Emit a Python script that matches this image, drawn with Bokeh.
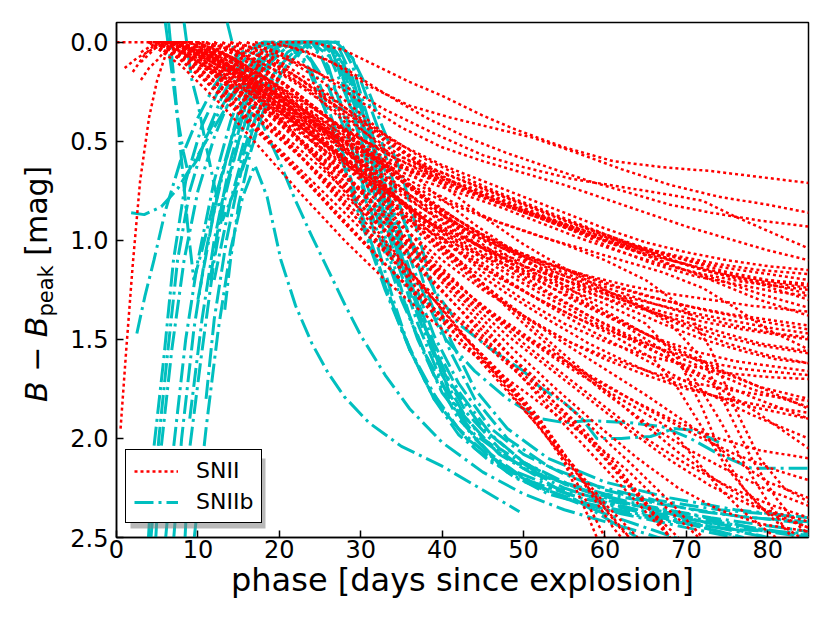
from bokeh.plotting import figure
from bokeh.layouts import row
from bokeh.models import (Range1d, FixedTicker, NumeralTickFormatter, Legend,
                          LegendItem, BoxAnnotation, Div)
from bokeh.embed import file_html
from bokeh.resources import INLINE

# ---------------- data: (phase [days], B - B_peak [mag]) ----------------
# SNII light curves (red dotted)
snii_01 = [(20,0),(24,0),(28,0.04),(32,0.12),(36,0.2),(40,0.27),(45,0.37),(49,0.44),(55,0.53),(61,0.6),(67,0.63),(73,0.65),(79,0.68),(85,0.71)]
snii_02 = [(17,0),(21,0.02),(26,0.09),(31,0.22),(36,0.32),(41,0.38),(46,0.43),(51,0.48),(56,0.55),(62,0.64),(68,0.72),(74,0.78),(80,0.82),(85,0.86)]
snii_03 = [(14,0),(18,0.04),(23,0.12),(28,0.22),(33,0.34),(39,0.46),(45,0.57),(50,0.63),(56,0.69),(62,0.73),(68,0.77),(72,0.8),(76,0.88),(81,0.97),(85,1.04)]
snii_04 = [(16,0),(20,0.05),(25,0.16),(30,0.3),(35,0.43),(40,0.53),(45,0.6),(50,0.66),(55,0.72),(60,0.79),(65,0.86),(70,0.93),(75,0.99),(80,1.05),(85,1.1)]
snii_05 = [(4,0),(6,0),(10,0.05),(15,0.15),(20,0.27),(25,0.39),(30,0.52),(35,0.62),(40,0.7),(45,0.78),(50,0.86),(55,0.93),(60,1.0),(65,1.05),(70,1.1),(75,1.14),(80,1.17),(85,1.2)]
snii_06 = [(5,0),(9,0),(14,0.1),(19,0.2),(24,0.33),(29,0.46),(34,0.58),(39,0.67),(44,0.74),(49,0.82),(54,0.9),(59,0.97),(64,1.03),(69,1.08),(74,1.12),(79,1.15),(85,1.17)]
snii_07 = [(12,0),(16,0.06),(21,0.18),(26,0.32),(31,0.47),(36,0.6),(41,0.7),(46,0.78),(51,0.86),(56,0.94),(61,1.02),(66,1.08),(71,1.13),(76,1.18),(81,1.21),(85,1.23)]
snii_08 = [(7,0),(11,0.08),(16,0.2),(21,0.33),(26,0.45),(31,0.56),(36,0.65),(41,0.73),(46,0.8),(51,0.87),(56,0.95),(61,1.04),(66,1.12),(71,1.18),(76,1.22),(81,1.26),(85,1.28)]
snii_09 = [(15,0),(19,0.07),(24,0.2),(29,0.36),(34,0.52),(39,0.64),(44,0.72),(49,0.8),(54,0.88),(59,0.96),(64,1.04),(69,1.11),(74,1.17),(79,1.22),(85,1.3)]
snii_10 = [(4,0),(5,0),(9,0.06),(14,0.17),(19,0.29),(24,0.41),(29,0.53),(34,0.62),(39,0.69),(44,0.76),(49,0.84),(54,0.92),(59,0.99),(64,1.06),(69,1.14),(74,1.2),(79,1.27),(85,1.34)]
snii_11 = [(8,0),(12,0.07),(17,0.2),(22,0.35),(27,0.5),(32,0.66),(37,0.82),(42,0.97),(47,1.08),(52,1.16),(57,1.23),(62,1.3),(67,1.36),(72,1.41),(77,1.45),(85,1.5)]
snii_12 = [(10,0),(14,0.08),(19,0.22),(24,0.37),(29,0.53),(34,0.7),(39,0.87),(44,1.02),(49,1.13),(54,1.21),(59,1.28),(64,1.34),(69,1.4),(74,1.46),(79,1.52),(85,1.56)]
snii_13 = [(6,0),(10,0.07),(15,0.21),(20,0.35),(25,0.5),(30,0.65),(35,0.8),(40,0.93),(45,1.04),(50,1.13),(55,1.2),(60,1.26),(65,1.31),(70,1.36),(75,1.4),(80,1.44),(85,1.47)]
snii_14 = [(13,0),(17,0.1),(22,0.25),(27,0.41),(32,0.58),(37,0.75),(42,0.9),(47,1.03),(52,1.14),(57,1.24),(62,1.33),(67,1.42),(72,1.5),(77,1.56),(81,1.6),(85,1.62)]
snii_15 = [(4,0),(8,0.05),(13,0.17),(18,0.3),(23,0.44),(28,0.58),(33,0.72),(38,0.85),(43,0.96),(48,1.05),(53,1.12),(58,1.18),(63,1.23),(68,1.27),(73,1.3),(78,1.33),(85,1.36)]
snii_16 = [(7,0),(11,0.1),(16,0.25),(21,0.4),(26,0.56),(31,0.73),(36,0.92),(41,1.1),(46,1.27),(51,1.41),(56,1.52),(61,1.6),(66,1.67),(71,1.72),(76,1.76),(81,1.79),(85,1.81)]
snii_17 = [(11,0),(15,0.1),(20,0.26),(25,0.43),(30,0.61),(35,0.8),(40,0.99),(45,1.16),(50,1.3),(55,1.42),(60,1.51),(65,1.58),(70,1.63),(75,1.67),(80,1.69),(85,1.7)]
snii_18 = [(9,0),(13,0.09),(18,0.23),(23,0.38),(28,0.55),(33,0.73),(38,0.9),(43,1.06),(48,1.2),(53,1.33),(58,1.45),(63,1.56),(68,1.67),(73,1.78),(78,1.88),(85,2.0)]
snii_19 = [(14,0),(18,0.08),(23,0.22),(28,0.4),(33,0.6),(38,0.8),(43,0.98),(48,1.13),(53,1.26),(58,1.38),(63,1.49),(68,1.6),(73,1.72),(78,1.85),(85,2.05)]
snii_20 = [(5,0),(9,0.08),(14,0.22),(19,0.36),(24,0.5),(29,0.64),(34,0.78),(39,0.92),(44,1.04),(49,1.15),(54,1.25),(59,1.35),(64,1.45),(69,1.55),(74,1.65),(79,1.74),(85,1.85)]
snii_21 = [(10,0),(15,0.12),(20,0.27),(25,0.42),(30,0.57),(35,0.7),(40,0.8),(45,0.88),(50,0.95),(55,1.02),(60,1.1),(65,1.2),(70,1.35),(73,1.55),(76,1.85),(79,2.1),(82,2.25),(85,2.32)]
snii_22 = [(8,0),(13,0.12),(18,0.27),(23,0.43),(28,0.6),(33,0.76),(38,0.9),(43,1.0),(48,1.08),(53,1.15),(58,1.22),(63,1.3),(68,1.42),(72,1.6),(75,1.85),(78,2.1),(81,2.3),(84,2.45),(85,2.48)]
snii_23 = [(12,0),(17,0.1),(22,0.25),(27,0.42),(32,0.6),(37,0.77),(42,0.92),(47,1.05),(52,1.18),(57,1.3),(62,1.42),(67,1.55),(71,1.7),(74,1.9),(77,2.12),(80,2.32),(82,2.45),(83,2.5)]
snii_24 = [(6,0),(10,0.1),(15,0.27),(20,0.45),(25,0.63),(30,0.82),(35,1.03),(40,1.25),(45,1.48),(50,1.7),(55,1.93),(60,2.15),(65,2.37),(68,2.5)]
snii_25 = [(8,0),(12,0.11),(17,0.28),(22,0.47),(27,0.66),(32,0.87),(37,1.08),(42,1.3),(47,1.52),(52,1.74),(57,1.96),(62,2.2),(67,2.42),(69,2.5)]
snii_26 = [(5,0),(9,0.09),(14,0.26),(19,0.44),(24,0.63),(29,0.84),(34,1.06),(39,1.3),(44,1.54),(49,1.78),(54,2.02),(58,2.25),(62,2.46),(63,2.5)]
snii_27 = [(10,0),(14,0.1),(19,0.28),(24,0.48),(29,0.7),(34,0.93),(39,1.15),(44,1.36),(49,1.56),(54,1.75),(59,1.93),(64,2.1),(69,2.25),(74,2.36),(79,2.43),(85,2.47)]
snii_28 = [(7,0),(11,0.12),(16,0.3),(21,0.5),(26,0.72),(31,0.96),(36,1.2),(41,1.44),(46,1.67),(51,1.9),(56,2.13),(60,2.33),(64,2.5)]
snii_29 = [(4,0),(8,0.09),(13,0.27),(18,0.47),(23,0.68),(28,0.9),(33,1.12),(38,1.33),(43,1.53),(48,1.73),(53,1.96),(57,2.2),(61,2.45),(62,2.5)]
snii_30 = [(9,0),(13,0.1),(18,0.27),(23,0.46),(28,0.67),(33,0.89),(38,1.1),(43,1.3),(48,1.48),(53,1.64),(58,1.8),(63,1.96),(68,2.11),(73,2.24),(78,2.34),(85,2.42)]
snii_31 = [(11,0),(15,0.1),(20,0.27),(25,0.47),(30,0.69),(35,0.92),(40,1.14),(45,1.34),(50,1.52),(55,1.68),(60,1.84),(65,2.0),(70,2.13),(75,2.24),(80,2.33),(85,2.4)]
snii_32 = [(4,0),(7,0.06),(11,0.2),(15,0.36),(20,0.56),(25,0.78),(30,1.0),(35,1.2),(40,1.38),(45,1.58),(50,1.82),(55,2.12),(58,2.4),(59,2.5)]
snii_33 = [(6,0),(9,0.08),(13,0.24),(17,0.42),(22,0.64),(27,0.87),(32,1.08),(37,1.28),(42,1.46),(47,1.66),(52,1.9),(56,2.18),(59,2.42),(60,2.5)]
snii_34 = [(0.5,1.95),(1.2,1.55),(2,1.12),(2.9,0.7),(4,0.38),(5,0.19),(6.3,0.03),(7.5,0),(10,0),(14,0.12),(19,0.33),(24,0.56),(29,0.8),(34,1.05),(39,1.3),(44,1.55),(49,1.8),(54,2.05),(59,2.3),(63,2.5)]
snii_35 = [(1,0.13),(2.5,0.08),(4.2,0.04),(6.3,0),(10,0),(15,0.09),(20,0.24),(25,0.41),(30,0.6),(35,0.81),(40,1.02),(45,1.22),(50,1.42),(55,1.6),(60,1.77),(65,1.92),(70,2.05),(75,2.16),(80,2.26),(85,2.34)]
snii_36 = [(3,0.19),(4,0.13),(5,0.09),(6,0.04),(7,0),(11,0),(15,0.07),(20,0.2),(25,0.35),(30,0.52),(35,0.7),(40,0.85),(45,0.97),(50,1.07),(55,1.15),(60,1.22),(65,1.28),(70,1.33),(75,1.37),(80,1.4),(85,1.43)]
snii_37 = [(0,0),(3,0),(6,0),(9,0.04),(13,0.13),(18,0.27),(23,0.42),(28,0.58),(33,0.74),(38,0.9),(43,1.04),(48,1.17),(53,1.29),(58,1.4),(63,1.5),(68,1.6),(73,1.7),(78,1.79),(85,1.9)]
snii_38 = [(5,0),(8,0),(12,0.08),(17,0.2),(22,0.34),(27,0.48),(32,0.6),(37,0.69),(42,0.76),(47,0.83),(52,0.91),(57,0.99),(62,1.06),(67,1.12),(72,1.17),(77,1.21),(85,1.25)]
snii_39 = [(6,0),(10,0.04),(15,0.14),(20,0.26),(25,0.38),(30,0.49),(35,0.58),(40,0.66),(45,0.74),(50,0.82),(55,0.9),(60,0.97),(65,1.04),(70,1.1),(75,1.16),(80,1.2),(85,1.22)]
snii_40 = [(9,0),(13,0.06),(18,0.17),(23,0.3),(28,0.44),(33,0.56),(38,0.66),(43,0.74),(48,0.82),(53,0.89),(58,0.96),(63,1.03),(68,1.1),(73,1.16),(79,1.21),(85,1.27)]
snii_41 = [(11,0),(15,0.05),(20,0.15),(25,0.27),(30,0.4),(35,0.52),(40,0.62),(45,0.7),(50,0.78),(55,0.86),(60,0.94),(65,1.01),(70,1.06),(75,1.1),(80,1.13),(85,1.15)]
snii_42 = [(13,0),(17,0.06),(22,0.17),(27,0.3),(32,0.44),(37,0.57),(42,0.67),(47,0.76),(52,0.84),(57,0.92),(62,1.0),(67,1.08),(72,1.15),(78,1.2),(85,1.24)]
snii_43 = [(3,0.05),(5,0),(8,0),(12,0.09),(17,0.22),(22,0.37),(27,0.52),(32,0.67),(37,0.8),(42,0.92),(47,1.02),(52,1.1),(57,1.17),(62,1.24),(67,1.3),(72,1.35),(78,1.4),(85,1.45)]
snii_44 = [(7,0),(11,0.06),(16,0.18),(21,0.32),(26,0.47),(31,0.62),(36,0.77),(41,0.9),(46,1.01),(51,1.1),(56,1.18),(61,1.25),(66,1.32),(71,1.38),(76,1.43),(81,1.47),(85,1.49)]
snii_45 = [(10,0),(14,0.07),(19,0.2),(24,0.35),(29,0.51),(34,0.67),(39,0.82),(44,0.95),(49,1.06),(54,1.16),(59,1.25),(64,1.33),(69,1.41),(74,1.48),(79,1.53),(85,1.57)]
snii_46 = [(8,0),(12,0.09),(17,0.23),(22,0.39),(27,0.56),(32,0.74),(37,0.91),(42,1.06),(47,1.19),(52,1.3),(57,1.4),(62,1.48),(67,1.55),(72,1.61),(77,1.65),(85,1.68)]
snii_47 = [(12,0),(16,0.08),(21,0.22),(26,0.38),(31,0.55),(36,0.73),(41,0.9),(46,1.05),(51,1.18),(56,1.3),(61,1.4),(66,1.49),(71,1.56),(76,1.61),(85,1.66)]
snii_48 = [(6,0),(10,0.09),(15,0.24),(20,0.4),(25,0.57),(30,0.75),(35,0.93),(40,1.1),(45,1.25),(50,1.38),(55,1.5),(60,1.6),(65,1.68),(70,1.75),(75,1.8),(80,1.84),(85,1.87)]
snii_49 = [(9,0),(13,0.1),(18,0.25),(23,0.42),(28,0.6),(33,0.79),(38,0.97),(43,1.13),(48,1.27),(53,1.4),(58,1.52),(63,1.62),(68,1.71),(73,1.78),(78,1.84),(85,1.9)]
snii_50 = [(15,0),(19,0.08),(24,0.23),(29,0.4),(34,0.58),(39,0.76),(44,0.92),(49,1.06),(54,1.2),(59,1.33),(64,1.45),(69,1.56),(74,1.66),(79,1.74),(85,1.8)]
snii_51 = [(5,0),(9,0.1),(14,0.27),(19,0.45),(24,0.63),(29,0.81),(34,0.99),(39,1.16),(44,1.32),(49,1.46),(54,1.59),(59,1.71),(64,1.82),(69,1.92),(74,2.0),(79,2.06),(85,2.1)]
snii_52 = [(7,0),(11,0.11),(16,0.27),(21,0.45),(26,0.64),(31,0.84),(36,1.03),(41,1.2),(46,1.36),(51,1.5),(56,1.63),(61,1.75),(66,1.87),(71,1.98),(76,2.08),(81,2.16),(85,2.21)]
snii_53 = [(11,0),(15,0.11),(20,0.28),(25,0.47),(30,0.66),(35,0.86),(40,1.05),(45,1.22),(50,1.38),(55,1.52),(60,1.65),(65,1.78),(70,1.92),(75,2.08),(80,2.22),(85,2.3)]
snii_54 = [(4,0),(8,0.12),(13,0.32),(18,0.55),(23,0.78),(28,1.0),(33,1.2),(38,1.38),(43,1.55),(48,1.7),(53,1.85),(58,2.0),(63,2.17),(67,2.33),(71,2.48),(72,2.52)]
snii_55 = [(8,0),(12,0.13),(17,0.33),(22,0.55),(27,0.78),(32,1.0),(37,1.2),(42,1.39),(47,1.57),(52,1.75),(57,1.94),(61,2.12),(65,2.32),(68,2.5)]
snii_56 = [(10,0),(14,0.12),(19,0.3),(24,0.5),(29,0.71),(34,0.92),(39,1.12),(44,1.3),(49,1.46),(54,1.6),(59,1.73),(64,1.85),(68,1.95),(71,2.1),(74,2.25),(77,2.37),(80,2.47),(81,2.5)]
snii_57 = [(12,0),(16,0.1),(21,0.27),(26,0.46),(31,0.66),(36,0.85),(41,1.02),(46,1.16),(51,1.28),(56,1.38),(61,1.48),(66,1.6),(69,1.75),(72,1.95),(75,2.15),(78,2.3),(81,2.42),(84,2.5)]
snii_58 = [(6,0),(10,0.1),(15,0.25),(20,0.41),(25,0.58),(30,0.74),(35,0.88),(40,0.99),(45,1.08),(50,1.16),(55,1.24),(60,1.32),(65,1.42),(69,1.6),(72,1.85),(74,2.05),(77,2.25),(80,2.38),(85,2.45)]
snii_59 = [(19,0),(23,0.04),(28,0.13),(33,0.26),(38,0.38),(43,0.48),(48,0.56),(53,0.63),(58,0.7),(63,0.76),(68,0.82),(73,0.86),(79,0.9),(85,0.93)]
snii_60 = [(8,0),(12,0.07),(17,0.19),(22,0.32),(27,0.46),(32,0.6),(37,0.72),(42,0.82),(47,0.91),(52,0.98),(57,1.04),(62,1.1),(67,1.16),(72,1.24),(76,1.34),(80,1.45),(85,1.55)]
snii_61 = [(3,0.1),(5,0.02),(7,0),(10,0.05),(14,0.16),(19,0.31),(24,0.47),(29,0.64),(34,0.82),(39,1.0),(44,1.18),(49,1.36),(54,1.54),(59,1.72),(64,1.9),(69,2.07),(74,2.22),(79,2.35),(85,2.45)]
snii_62 = [(9,0),(13,0.12),(18,0.3),(23,0.51),(28,0.73),(33,0.96),(38,1.18),(43,1.38),(48,1.57),(53,1.75),(58,1.93),(63,2.12),(68,2.32),(72,2.5)]
snii_63 = [(5,0),(9,0.11),(14,0.3),(19,0.5),(24,0.7),(29,0.9),(34,1.1),(39,1.3),(44,1.48),(49,1.66),(54,1.85),(59,2.05),(64,2.28),(68,2.5)]
snii_64 = [(14,0),(18,0.07),(23,0.2),(28,0.35),(33,0.5),(38,0.63),(43,0.74),(48,0.83),(53,0.9),(58,0.97),(63,1.04),(68,1.12),(73,1.2),(79,1.3),(85,1.38)]
snii_65 = [(16,0),(20,0.06),(25,0.19),(30,0.36),(35,0.54),(40,0.72),(45,0.88),(50,1.02),(55,1.14),(60,1.25),(65,1.35),(70,1.44),(75,1.52),(80,1.58),(85,1.62)]
snii_66 = [(2,0.15),(3.5,0.06),(5,0),(9,0),(13,0.1),(18,0.25),(23,0.41),(28,0.58),(33,0.75),(38,0.9),(43,1.03),(48,1.15),(53,1.27),(58,1.38),(63,1.48),(68,1.57),(73,1.66),(78,1.75),(85,1.84)]

# SNIIb light curves (cyan dash-dot)
sniib_01 = [(6.0,-0.1),(6.8,0.15),(7.5,0.38),(8.2,0.55),(8.8,0.66),(9.8,0.6),(11,0.48),(13,0.32),(15,0.18),(17,0.07),(19,0.01),(21,0),(23,0.03),(26,0.22),(29,0.55),(32,0.95),(35,1.3),(38,1.58),(41,1.8),(45,2.0),(50,2.15),(55,2.25),(60,2.32),(65,2.37),(70,2.42),(75,2.46),(80,2.5)]
sniib_02 = [(6.4,-0.1),(7.2,0.25),(8.0,0.6),(8.8,0.95),(9.5,1.2),(10.5,1.05),(12,0.8),(14,0.52),(16,0.3),(18,0.14),(20,0.04),(22,0),(25,0),(27,0.08),(30,0.4),(33,0.82),(36,1.2),(39,1.52),(42,1.76),(46,1.98),(50,2.12),(55,2.23),(60,2.3),(66,2.36),(72,2.41),(78,2.45),(85,2.49)]
sniib_03 = [(8.3,-0.1),(9.2,0.18),(10,0.31),(11,0.52),(12,0.72),(13,0.9),(14.5,0.75),(16,0.58),(18,0.36),(20,0.17),(22,0.05),(24,0),(26,0),(28,0.15),(31,0.55),(34,1.0),(37,1.38),(40,1.68),(43,1.9),(47,2.08),(52,2.2),(58,2.35),(64,2.5)]
sniib_04 = [(4.2,2.52),(5.2,2.0),(6.2,1.6),(7.5,1.1),(9,0.75),(11,0.47),(13,0.27),(15,0.12),(17,0.03),(19,0),(21,0),(23,0.08),(26,0.38),(29,0.75),(32,1.12),(35,1.45),(38,1.72),(42,1.95),(46,2.1),(51,2.22),(57,2.3),(64,2.36),(72,2.42),(80,2.47),(85,2.5)]
sniib_05 = [(4.8,2.52),(5.4,2.08),(6.8,1.55),(8.3,1.1),(10,0.75),(12,0.48),(14,0.28),(16,0.13),(18,0.04),(20,0),(23,0),(25,0.06),(28,0.35),(31,0.75),(34,1.15),(37,1.5),(40,1.77),(44,1.98),(48,2.1),(53,2.2),(60,2.28),(68,2.34),(76,2.39),(85,2.43)]
sniib_06 = [(3.9,2.52),(4.5,2.08),(5.8,1.6),(7,1.1),(8.5,0.7),(10.5,0.42),(13,0.2),(15.5,0.06),(18,0),(22,0),(24,0.1),(27,0.45),(30,0.85),(33,1.22),(36,1.55),(39,1.8),(43,2.0),(48,2.15),(54,2.25),(61,2.32),(70,2.38),(78,2.45),(85,2.5)]
sniib_07 = [(8.4,2.52),(8.9,2.08),(10.4,1.59),(12,1.1),(13.5,0.75),(15,0.5),(17,0.27),(19,0.1),(21,0.02),(23,0),(26,0),(28,0.12),(31,0.5),(34,0.95),(37,1.35),(40,1.65),(43,1.87),(47,2.05),(52,2.18),(58,2.27),(65,2.34),(73,2.4),(85,2.47)]
sniib_08 = [(9.5,2.52),(11,1.95),(12.5,1.45),(14,1.05),(15.5,0.78),(17,0.62),(18.5,0.78),(20.2,1.1),(22,1.33),(24,1.52),(26,1.67),(28,1.79),(31,1.92),(35,2.04),(40,2.14),(45,2.26),(49.5,2.37)]
sniib_09 = [(2.5,1.47),(3.5,1.28),(4.6,1.1),(6,0.85),(8,0.58),(10,0.38),(12,0.22),(14,0.1),(16,0.03),(18,0),(21,0),(24,0.15),(27,0.5),(30,0.9),(33,1.25),(36,1.55),(40,1.85),(44,2.05),(49,2.2),(55,2.3),(62,2.38),(70,2.45),(76,2.5)]
sniib_10 = [(1.8,0.86),(3.4,0.87),(5.5,0.83),(7.5,0.74),(9,0.64),(11,0.5),(13,0.36),(15,0.23),(17,0.12),(19,0.04),(21,0),(24,0),(26,0.05),(29,0.35),(32,0.75),(35,1.12),(38,1.45),(41,1.72),(45,1.95),(50,2.12),(56,2.24),(63,2.33),(70,2.4),(78,2.48),(85,2.55)]
sniib_11 = [(13.3,1.35),(14,1.1),(15,0.82),(16.5,0.55),(18,0.35),(20,0.18),(22,0.07),(24,0.01),(26,0),(27.5,0),(29,0.12),(31,0.4),(33,0.75),(36,1.15),(39,1.48),(42,1.72),(46,1.95),(50,2.08),(55,2.18),(60,2.26),(66,2.32),(72,2.37),(78,2.4),(85,2.42)]
sniib_12 = [(13.6,-0.1),(14.5,0.05),(16,0.22),(18,0.42),(20,0.6),(22,0.8),(24,0.98),(26,1.15),(28,1.32),(30,1.48),(33,1.68),(36,1.85),(40,2.02),(45,2.17),(50,2.28),(55,2.36),(60,2.42),(65,2.48),(68,2.52)]
sniib_13 = [(11.5,1.2),(13,0.8),(15,0.5),(17,0.25),(19,0.08),(21,0),(25,0),(27,0.05),(30,0.3),(33,0.65),(36,0.98),(39,1.25),(42,1.42),(46,1.55),(50,1.66),(52,1.74),(55,1.82),(57,1.89),(59,2.0),(62,2.0),(65.6,1.99),(68.5,1.95),(71,1.96),(74,2.02)]
sniib_14 = [(10,1.3),(12,0.85),(14,0.5),(16,0.25),(18,0.1),(20,0.02),(22,0),(26,0),(28,0.1),(31,0.45),(34,0.85),(37,1.2),(40,1.48),(44,1.66),(48,1.8),(52,1.9),(55,1.92),(58,1.91),(63,1.92),(67,1.94),(70.5,2.0),(74,2.08),(78,2.15),(85,2.15)]
sniib_15 = [(7,2.52),(8,2.0),(9.5,1.45),(11,1.05),(13,0.65),(15,0.35),(17,0.15),(19,0.04),(21,0),(24,0),(27,0.1),(30,0.5),(33,0.98),(36,1.38),(39,1.68),(42,1.9),(46,2.08),(50,2.2),(55,2.3),(60,2.38),(65,2.45),(70,2.52)]
sniib_16 = [(6,2.52),(7,2.05),(8.5,1.5),(10,1.1),(12,0.7),(14,0.4),(16,0.18),(18,0.05),(20,0),(26,0),(28,0.2),(31,0.62),(34,1.05),(37,1.42),(40,1.72),(43,1.95),(47,2.13),(52,2.25),(58,2.33),(64,2.38),(70,2.43),(77,2.5)]
sniib_17 = [(11,1.8),(12,1.4),(13.5,1.0),(15,0.7),(17,0.4),(19,0.18),(21,0.05),(23,0),(27,0),(29,0.18),(32,0.6),(35,1.05),(38,1.45),(41,1.78),(44,2.0),(48,2.17),(53,2.28),(60,2.36),(68,2.42),(76,2.46),(85,2.48)]
sniib_18 = [(9,1.9),(10.5,1.4),(12,1.0),(14,0.6),(16,0.3),(18,0.1),(20,0),(24,0),(26,0.12),(28,0.38),(30,0.7),(32,1.02),(34,1.3),(36,1.55),(39,1.8),(42,1.98),(46,2.12),(51,2.22),(57,2.3),(63,2.36),(70,2.43),(77,2.5)]
sniib_19 = [(15,0.6),(17,0.3),(19,0.1),(21,0.02),(23,0),(27,0),(29,0.08),(32,0.42),(35,0.85),(38,1.25),(41,1.56),(44,1.8),(48,2.0),(53,2.14),(59,2.24),(66,2.31),(74,2.36),(85,2.4)]
sniib_20 = [(12,1.2),(14,0.8),(16,0.5),(18,0.28),(20,0.12),(22,0.04),(24,0),(27,0),(29,0.08),(31,0.25),(32.5,0.41),(35,0.66),(38.6,1.2),(41,1.5),(44,1.75),(48,1.95),(53,2.1),(60,2.22),(68,2.3),(76,2.36),(85,2.4)]

SNII = [snii_01, snii_02, snii_03, snii_04, snii_05, snii_06, snii_07, snii_08, snii_09, snii_10,
        snii_11, snii_12, snii_13, snii_14, snii_15, snii_16, snii_17, snii_18, snii_19, snii_20,
        snii_21, snii_22, snii_23, snii_24, snii_25, snii_26, snii_27, snii_28, snii_29, snii_30,
        snii_31, snii_32, snii_33, snii_34, snii_35, snii_36, snii_37, snii_38, snii_39, snii_40,
        snii_41, snii_42, snii_43, snii_44, snii_45, snii_46, snii_47, snii_48, snii_49, snii_50,
        snii_51, snii_52, snii_53, snii_54, snii_55, snii_56, snii_57, snii_58, snii_59, snii_60,
        snii_61, snii_62, snii_63, snii_64, snii_65, snii_66]
SNIIB = [sniib_01, sniib_02, sniib_03, sniib_04, sniib_05, sniib_06, sniib_07, sniib_08, sniib_09, sniib_10,
         sniib_11, sniib_12, sniib_13, sniib_14, sniib_15, sniib_16, sniib_17, sniib_18, sniib_19, sniib_20]

x_ticks = [0, 10, 20, 30, 40, 50, 60, 70, 80]
y_ticks = [0.0, 0.5, 1.0, 1.5, 2.0, 2.5]
labels = ["SNII", "SNIIb"]

# ---------------- figure ----------------
FONT = "DejaVu Sans"
LEFT_W = 60
p = figure(frame_width=692, frame_height=515, output_backend="svg", toolbar_location=None,
           x_range=Range1d(0, 85), y_range=Range1d(2.5, -0.1),
           min_border_left=116 - LEFT_W, min_border_right=22, min_border_top=22, min_border_bottom=86,
           background_fill_color="white", border_fill_color="white")
p.grid.visible = False
p.outline_line_color = "black"
p.outline_line_width = 1.5
p.outline_line_alpha = 1.0

# SNIIb drawn first, SNII dots on top
cyan_r = p.multi_line(xs=[[pt[0] for pt in c] for c in SNIIB],
                      ys=[[pt[1] for pt in c] for c in SNIIB],
                      line_color="#00bfbf", line_width=3, line_dash="19 5 3 5")
red_r = p.multi_line(xs=[[pt[0] for pt in c] for c in SNII],
                     ys=[[pt[1] for pt in c] for c in SNII],
                     line_color="red", line_width=2.5, line_dash="3 3")

for ax in (p.xaxis, p.yaxis):
    ax.major_tick_in = 7
    ax.major_tick_out = 0
    ax.minor_tick_line_color = None
    ax.major_tick_line_color = "black"
    ax.major_tick_line_width = 1.5
    ax.axis_line_color = "black"
    ax.axis_line_width = 1.5
    ax.major_label_text_font = FONT
    ax.major_label_text_font_size = "24px"
    ax.major_label_text_color = "black"

p.xaxis.ticker = FixedTicker(ticks=x_ticks)
p.yaxis.ticker = FixedTicker(ticks=y_ticks)
p.yaxis.formatter = NumeralTickFormatter(format="0.0")
p.xaxis.major_label_standoff = 2
p.yaxis.major_label_standoff = 8

p.xaxis.axis_label = "phase [days since explosion]"
p.xaxis.axis_label_text_font = FONT
p.xaxis.axis_label_text_font_size = "32px"
p.xaxis.axis_label_text_font_style = "normal"
p.xaxis.axis_label_text_color = "black"
p.xaxis.axis_label_standoff = 0

# legend shadow
p.add_layout(BoxAnnotation(left=14, right=149, bottom=9, top=79,
                           left_units="screen", right_units="screen",
                           bottom_units="screen", top_units="screen",
                           fill_color="#808080", fill_alpha=0.55, line_color=None))

legend = Legend(items=[LegendItem(label=labels[0], renderers=[red_r]),
                       LegendItem(label=labels[1], renderers=[cyan_r])],
                location=(9, 14), margin=0, padding=8, spacing=6,
                glyph_width=44, glyph_height=24, label_standoff=18,
                label_text_font=FONT, label_text_font_size="22px",
                label_text_color="black",
                border_line_color="black", border_line_width=1.5, border_line_alpha=1.0,
                background_fill_color="white", background_fill_alpha=1.0)
p.add_layout(legend)

# y-axis label (rotated HTML text, with italic B and subscript "peak")
ylabel_html = (
    '<div style="position:relative;width:%dpx;height:623px;overflow:visible;">'
    '<div style="position:absolute;left:22px;top:402px;transform-origin:0 0;'
    'transform:rotate(-90deg);white-space:nowrap;font-family:\'DejaVu Sans\';'
    'font-size:30px;line-height:30px;color:black;">'
    '<i>B</i> \u2212 <i>B</i><span style="font-size:21px;position:relative;top:6px;">peak</span> [mag]'
    '</div></div>' % LEFT_W
)
ylab_div = Div(text=ylabel_html, width=LEFT_W, height=623, margin=0)

layout = row(ylab_div, p, spacing=0)
open("out.html", "w").write(file_html(layout, INLINE, title="SNII vs SNIIb"))
